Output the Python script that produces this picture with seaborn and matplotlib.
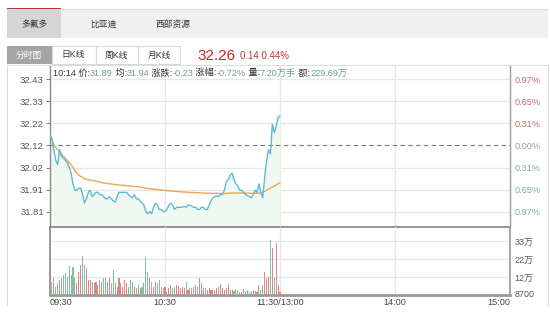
import matplotlib
matplotlib.use("Agg")
import matplotlib.pyplot as plt
from matplotlib.patches import Rectangle
from matplotlib.lines import Line2D
import seaborn as sns
import numpy as np
import pandas as pd

sns.set_theme(style="white")
plt.rcParams['font.family'] = ['Liberation Sans', 'Noto Sans CJK SC', 'DejaVu Sans']

# ---------------- data ----------------
stock_tabs = ["多氟多", "比亚迪", "西部资源"]
chart_tabs = ["分时图", "日K线", "周K线", "月K线"]
last_price = "32.26"
change_text = "0.14 0.44%"
prev_close = 32.12
price_tick_labels = ["32.43", "32.33", "32.22", "32.12", "32.02", "31.91", "31.81"]
pct_tick_labels = ["0.97%", "0.65%", "0.31%", "0.00%", "0.31%", "0.65%", "0.97%"]
vol_tick_labels = ["8700", "12万", "22万", "33万"]
time_labels = ["09:30", "10:30", "11:30/13:00", "14:00", "15:00"]
time_label_minutes = [0, 60, 120, 180, 240]
info_parts = [("10:14 价:", "31.89"), (" 均:", "31.94"), (" 涨跌:", "-0.23"),
              (" 涨幅:", "-0.72%"), (" 量:", "7.20万手"), (" 额:", "229.69万")]

price = [32.17, 32.15, 32.10, 32.05, 32.03, 32.10, 32.07, 32.06, 32.05, 32.04,
         32.02, 31.99, 31.94, 31.91, 31.91, 31.92, 31.92, 31.89, 31.85, 31.87,
         31.90, 31.91, 31.88, 31.89, 31.90, 31.90, 31.89, 31.89, 31.88, 31.87,
         31.87, 31.88, 31.87, 31.86, 31.855, 31.88, 31.90, 31.90, 31.90, 31.90,
         31.90, 31.89, 31.88, 31.875, 31.89, 31.87, 31.87, 31.86, 31.85, 31.84,
         31.81, 31.80, 31.81, 31.80, 31.83, 31.85, 31.84, 31.82, 31.82, 31.81,
         31.81, 31.82, 31.84, 31.85, 31.84, 31.82, 31.83, 31.83, 31.83, 31.83,
         31.835, 31.83, 31.84, 31.84, 31.835, 31.83, 31.83, 31.82, 31.82, 31.83,
         31.83, 31.82, 31.82, 31.84, 31.86, 31.875, 31.88, 31.885, 31.88, 31.89,
         31.89, 31.91, 31.95, 31.96, 31.98, 31.99, 31.96, 31.94, 31.93, 31.91,
         31.91, 31.90, 31.89, 31.885, 31.88, 31.875, 31.89, 31.91, 31.90, 31.94,
         31.90, 31.875, 31.97, 32.05, 32.10, 32.08, 32.22, 32.18, 32.21, 32.25,
         32.26]

avg_price = [32.17, 32.15, 32.12, 32.11, 32.10, 32.09, 32.08, 32.07, 32.06, 32.05,
             32.04, 32.03, 32.02, 32.00, 31.99, 31.98, 31.975, 31.97, 31.965, 31.96,
             31.96, 31.958, 31.956, 31.955, 31.953, 31.95, 31.948, 31.946, 31.944, 31.943,
             31.942, 31.94, 31.94, 31.938, 31.937, 31.936, 31.935, 31.934, 31.933, 31.932,
             31.931, 31.93, 31.93, 31.929, 31.928, 31.927, 31.926, 31.925, 31.924, 31.922,
             31.92, 31.918, 31.917, 31.916, 31.915, 31.914, 31.913, 31.912, 31.911, 31.91,
             31.909, 31.908, 31.907, 31.906, 31.906, 31.905, 31.904, 31.904, 31.903, 31.902,
             31.902, 31.901, 31.901, 31.900, 31.900, 31.899, 31.899, 31.898, 31.898, 31.897,
             31.897, 31.896, 31.896, 31.896, 31.895, 31.895, 31.895, 31.895, 31.895, 31.895,
             31.895, 31.895, 31.895, 31.896, 31.896, 31.897, 31.897, 31.897, 31.897, 31.897,
             31.897, 31.897, 31.897, 31.896, 31.896, 31.896, 31.896, 31.896, 31.896, 31.897,
             31.898, 31.90, 31.905, 31.91, 31.915, 31.92, 31.925, 31.93, 31.935, 31.94,
             31.945]

volume_wan = [9.2, 7.9, 10.4, 4.9, 7.3, 9.2, 10.4, 12.2, 13.4, 11.0,
              17.7, 12.2, 17.1, 10.4, 7.3, 14.0, 18.3, 23.8, 18.3, 16.5,
              9.2, 9.2, 7.9, 7.3, 7.9, 6.1, 9.2, 7.9, 10.4, 10.4,
              7.9, 10.4, 7.3, 15.3, 7.3, 4.9, 10.4, 7.3, 4.9, 9.2,
              7.3, 4.9, 9.2, 7.9, 4.9, 4.3, 6.1, 4.3, 4.9, 7.3,
              23.2, 14.0, 10.4, 7.9, 4.9, 7.9, 7.3, 9.2, 4.9, 4.3,
              4.9, 1.8, 4.3, 6.1, 4.3, 4.9, 6.1, 5.5, 4.3, 4.9,
              4.3, 7.9, 3.1, 4.3, 4.3, 4.9, 6.1, 4.9, 10.4, 7.3,
              4.3, 4.3, 3.1, 4.3, 3.1, 3.1, 3.1, 4.3, 4.9, 6.7,
              4.3, 3.1, 4.3, 6.7, 3.1, 3.1, 2.4, 3.7, 3.1, 1.8,
              1.8, 3.7, 2.4, 3.1, 1.8, 2.4, 3.1, 2.4, 1.8, 6.1,
              3.1, 6.1, 14.0, 10.4, 11.0, 33.6, 28.7, 10.4, 31.7, 6.1,
              1.8]

minutes = list(range(len(price)))
df = pd.DataFrame({"minute": minutes, "price": price, "avg": avg_price, "vol": volume_wan})

# ---------------- figure ----------------
W, H = 550, 320
fig = plt.figure(figsize=(W / 100, H / 100), dpi=100)
fig.patch.set_facecolor("white")


def fx(x):
    return x / W


def fy(y):
    return 1 - y / H


def rect(x0, y0, x1, y1, **kw):
    fig.add_artist(Rectangle((fx(x0), fy(y1)), (x1 - x0) / W, (y1 - y0) / H,
                             transform=fig.transFigure, **kw))


def hline(x0, x1, y, **kw):
    fig.add_artist(Line2D([fx(x0), fx(x1)], [fy(y), fy(y)], transform=fig.transFigure, **kw))


def vline(x, y0, y1, **kw):
    fig.add_artist(Line2D([fx(x), fx(x)], [fy(y0), fy(y1)], transform=fig.transFigure, **kw))


# tab bar
rect(7, 9, 548, 38, facecolor="#f0f0f0", edgecolor="none")
hline(7, 548, 8.5, color="#dddddd", lw=0.8)
rect(7, 9, 61, 38, facecolor="#d5d5d5", edgecolor="none")
rect(7, 8, 61, 9.5, facecolor="#c4272d", edgecolor="none")
for name, cx in zip(stock_tabs, [34, 103, 172.5]):
    fig.text(fx(cx), fy(24), name, ha="center", va="center", fontsize=6.3, color="#333333")

# chart-type buttons
rect(7, 46, 52, 64, facecolor="#a5a5a5", edgecolor="none")
for x0, x1 in [(52, 96), (96, 138), (138, 180)]:
    rect(x0, 46, x1, 64, facecolor="white", edgecolor="#d8d8d8", lw=0.8)
for name, cx, col in zip(chart_tabs, [29, 73, 116, 159], ["white", "#333", "#333", "#333"]):
    fig.text(fx(cx), fy(55), name, ha="center", va="center", fontsize=6.3, color=col)

fig.text(fx(197), fy(55.5), last_price, ha="left", va="center", fontsize=11, color="#d42222")
fig.text(fx(240), fy(56), change_text, ha="left", va="center", fontsize=7, color="#c03333")

# container border
hline(7, 548, 64.5, color="#dddddd", lw=0.8)
vline(7, 64.5, 306, color="#dddddd", lw=0.8)
vline(548, 64.5, 306, color="#dddddd", lw=0.8)

# ---------------- axes ----------------
ax_p = fig.add_axes([fx(50), fy(227), 460 / W, 162 / H])
ax_v = fig.add_axes([fx(50), fy(295), 460 / W, 68 / H])

step = prev_close * 0.0097 / 3
price_ticks = [prev_close + step * k for k in (3, 2, 1, 0, -1, -2, -3)]
ymax = prev_close + step * 3 + 14 / 22 * step
ymin = prev_close - step * 3 - 15 / 22 * step

line_col = "#5bbbd6"
avg_col = "#eea653"
grid_col = "#e6e6e6"

ax_p.fill_between(df["minute"], df["price"], ymin, color="#f1f8f1", lw=0, zorder=1)
sns.lineplot(data=df, x="minute", y="price", ax=ax_p, color=line_col, lw=1.0, zorder=4)
sns.lineplot(data=df, x="minute", y="avg", ax=ax_p, color=avg_col, lw=1.0, zorder=3)

ax_p.set_xlim(0, 240)
ax_p.set_ylim(ymin, ymax)
for t in price_ticks:
    if abs(t - prev_close) < 1e-9:
        ax_p.axhline(t, color="#777777", lw=0.8, dashes=(4, 3), zorder=2)
    else:
        ax_p.axhline(t, color=grid_col, lw=0.9, zorder=0)
for m in (60, 120, 180):
    ax_p.axvline(m, color=grid_col, lw=0.9, zorder=0)
    ax_v.axvline(m, color=grid_col, lw=0.9, zorder=0)

ax_p.set_yticks(price_ticks)
ax_p.set_yticklabels(price_tick_labels)
ax_p.set_xticks([])
ax_p.set_xlabel("")
ax_p.set_ylabel("")
ax_p.tick_params(axis="y", which="both", left=True, length=3, width=0.8, color="#888888",
                 labelsize=6.8, labelcolor="#555555", pad=1.5)

ax_r = ax_p.twinx()
ax_r.set_ylim(ymin, ymax)
ax_r.set_yticks(price_ticks)
ax_r.set_yticklabels(pct_tick_labels)
ax_r.tick_params(axis="y", length=0, labelsize=6.6, pad=3)
for i, lab in enumerate(ax_r.get_yticklabels()):
    lab.set_color("#c86868" if i < 3 else ("#999999" if i == 3 else "#7fb095"))
ax_r.grid(False)

for a in (ax_p, ax_r):
    for s in a.spines.values():
        s.set_visible(False)
ax_p.spines["left"].set_visible(True)
ax_p.spines["left"].set_color("#8a8a8a")
ax_p.spines["left"].set_linewidth(1.0)
ax_p.spines["right"].set_visible(True)
ax_p.spines["right"].set_color("#9a9a9a")
ax_p.spines["right"].set_linewidth(1.0)
ax_p.spines["bottom"].set_visible(True)
ax_p.spines["bottom"].set_color("#8a8a8a")
ax_p.spines["bottom"].set_linewidth(1.3)
ax_p.set_facecolor("none")

# info line
renderer = fig.canvas.get_renderer()
x = 53
for lab, val in info_parts:
    for txt, col in ((lab, "#333333"), (val, "#6f9e86")):
        t = fig.text(fx(x), fy(73), txt, ha="left", va="center", fontsize=6.6, color=col)
        bb = t.get_window_extent(renderer)
        x = bb.x1

# volume
colors = []
for i, p in enumerate(price):
    prev = prev_close if i == 0 else price[i - 1]
    colors.append("#e08585" if p >= prev else "#84bfa3")
ax_v.bar(df["minute"], df["vol"], width=0.6, color=colors, lw=0, zorder=3)
vmax = 68 / 18 * 11
ax_v.set_xlim(0, 240)
ax_v.set_ylim(0, vmax)
vol_ticks = [0, 11, 22, 33]
for t in vol_ticks[1:]:
    ax_v.axhline(t, color=grid_col, lw=0.9, zorder=0)
ax_v.set_yticks([])
ax_v.set_xticks(time_label_minutes)
ax_v.set_xticklabels(time_labels)
ax_v.tick_params(axis="x", length=0, labelsize=6.6, labelcolor="#444444", pad=2)
xl = ax_v.get_xticklabels()
xl[0].set_ha("left")
xl[-1].set_ha("right")
ax_vr = ax_v.twinx()
ax_vr.set_ylim(0, vmax)
ax_vr.set_yticks([1.1, 11, 22, 33])
ax_vr.set_yticklabels(vol_tick_labels)
ax_vr.tick_params(axis="y", length=0, labelsize=6.4, labelcolor="#555555", pad=3)
for a in (ax_v, ax_vr):
    for s in a.spines.values():
        s.set_visible(False)
ax_v.spines["left"].set_visible(True)
ax_v.spines["left"].set_color("#8a8a8a")
ax_v.spines["right"].set_visible(True)
ax_v.spines["right"].set_color("#9a9a9a")
ax_v.spines["bottom"].set_visible(True)
ax_v.spines["bottom"].set_color("#999999")
ax_v.spines["bottom"].set_linewidth(2.0)
ax_v.set_ylabel("")
ax_v.set_xlabel("")
ax_v.set_facecolor("none")

fig.savefig("out.png", dpi=100)
